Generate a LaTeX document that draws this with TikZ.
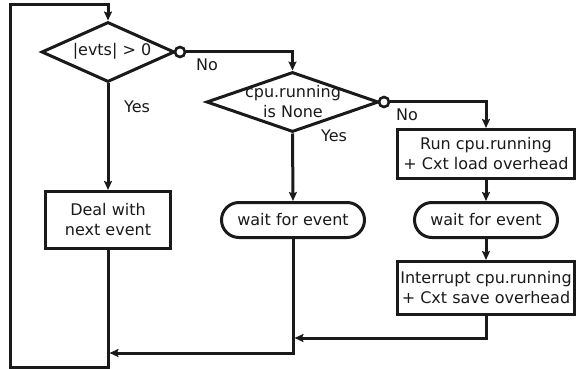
\documentclass[tikz,border=0pt]{standalone}
\usepackage{fontspec}
\setmainfont{DejaVu Sans}
\usetikzlibrary{shapes.geometric,arrows.meta}
\definecolor{ink}{HTML}{1A1A1A}
\begin{document}
\begin{tikzpicture}[x=1pt,y=-1pt,
  every node/.style={font=\fontsize{16}{20}\selectfont, text=ink},
  line/.style={draw=ink, line width=3pt},
  flow/.style={line, -{Stealth[length=9pt,width=8pt,inset=1.5pt]}},
  decision/.style={shape=diamond, draw=ink, line width=3pt, inner sep=0pt, fill=white},
  procbox/.style={shape=rectangle, draw=ink, line width=3pt, inner sep=0pt, align=center, fill=white},
  waitbox/.style={shape=rectangle, rounded corners=17.5pt, draw=ink, line width=3pt,
    minimum width=143pt, minimum height=35pt, inner sep=0pt, fill=white},
  nocircle/.style={shape=circle, draw=ink, line width=2.6pt, fill=white, minimum size=10pt, inner sep=0pt},
  tag/.style={inner sep=0pt}
]
\useasboundingbox (0,0) rectangle (576,369);

% decisions
\node[decision, minimum width=133pt, minimum height=60pt] (d1) at (108,52) {};
\node[tag] (d1t) at (112,51) {|evts| > 0};
\node[decision, minimum width=172pt, minimum height=60pt] (d2) at (292.5,102) {};
\node[tag, align=center] (d2t) at (293,102) {cpu.running\\is None};

% "No" exits
\node[nocircle] (c1) at ([xshift=4pt]d1.east) {};
\node[nocircle] (c2) at ([xshift=4pt]d2.east) {};

% actions
\node[procbox, minimum width=125pt, minimum height=57pt] (deal) at (108,220) {Deal with\\next event};
\node[waitbox] (w2) at (293,220) {wait for event};
\node[procbox, minimum width=177pt, minimum height=49pt] (run) at (486,154) {Run cpu.running\\+ Cxt load overhead};
\node[waitbox] (w3) at (486,220) {wait for event};
\node[procbox, minimum width=177pt, minimum height=53pt] (intr) at (486,288) {Interrupt cpu.running\\+ Cxt save overhead};

% junction points
\coordinate (j1) at (293,338);
\coordinate (j2) at (108,353);
\coordinate (bl) at (10,367);
\coordinate (tl) at (10,5);

% connectors
\draw[flow] (d1.south) -- (deal.north);
\draw[flow] (c1.east) -| (d2.north);
\draw[flow] (d2.south) -- (w2.north);
\draw[flow] (c2.east) -| (run.north);
\draw[flow] (run.south) -- (w3.north);
\draw[flow] (w3.south) -- (intr.north);
\draw[flow, shorten >=1.5pt] (intr.south) |- (j1);
\draw[flow, shorten >=1.5pt] (w2.south) |- (j2);
\draw[flow] (deal.south) |- (bl) -- (tl) -| (d1.north);

% branch labels
\node[tag] (no1) at (207,65) {No};
\node[tag] (yes1) at (137,107) {Yes};
\node[tag] (no2) at (407,115) {No};
\node[tag] (yes2) at (334,136) {Yes};
\end{tikzpicture}
\end{document}
